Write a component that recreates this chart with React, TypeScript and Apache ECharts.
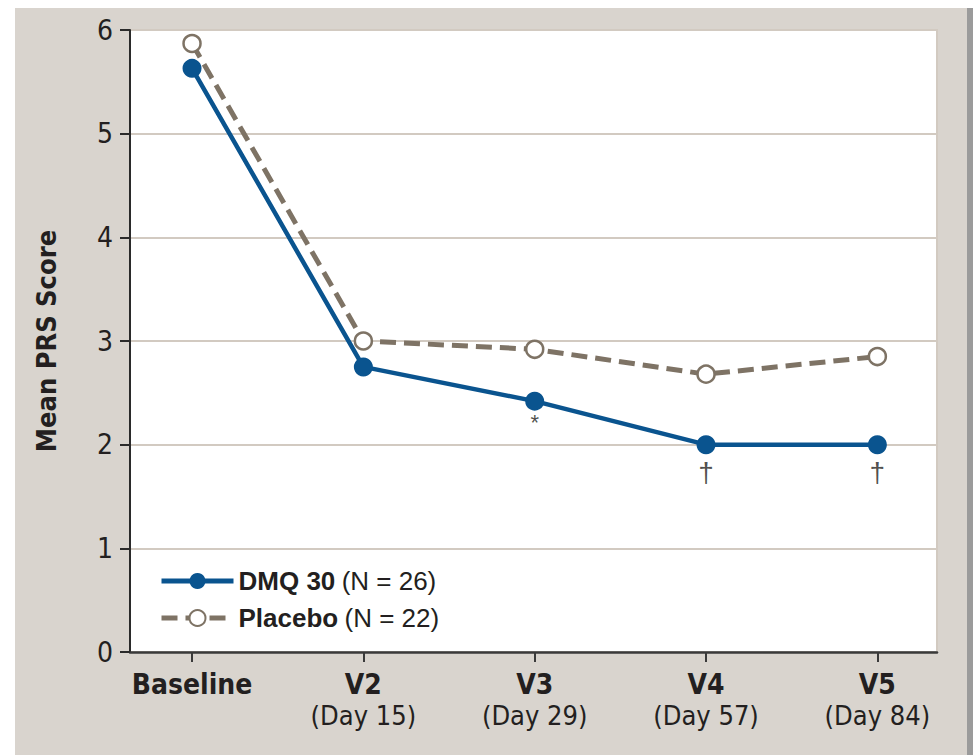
import React, { useEffect, useRef } from "react";
import * as echarts from "echarts";

const visitLabels = ["Baseline", "V2", "V3", "V4", "V5"];
const visitDays = ["", "(Day 15)", "(Day 29)", "(Day 57)", "(Day 84)"];
const visitIndex = [0, 1, 2, 3, 4];
const dmqValues = [5.63, 2.75, 2.42, 2.0, 2.0];
const placeboValues = [5.87, 3.0, 2.92, 2.68, 2.85];
const yTicks = [0, 1, 2, 3, 4, 5, 6];
const starMarks = [{ idx: 2, text: "*" }];
const daggerMarks = [{ idx: 3, text: "†" }, { idx: 4, text: "†" }];

const BLUE = "#0a548f";
const TAUPE = "#7e7365";
const INK = "#231f20";
const NARROW = '"Liberation Sans Narrow", "DejaVu Sans Condensed", "Liberation Sans", Arial, sans-serif';
const SANS = '"Liberation Sans", Arial, sans-serif';

export default function App() {
  const ref = useRef<HTMLDivElement>(null);
  useEffect(() => {
    if (!ref.current) return;
    const chart = echarts.init(ref.current, null, { renderer: "svg" });
    const dmqData = visitIndex.map((i) => [i, dmqValues[i]]);
    const placeboData = visitIndex.map((i) => [i, placeboValues[i]]);
    const starData = starMarks.map((m) => ({ value: [m.idx, dmqValues[m.idx]], label: { formatter: m.text } }));
    const daggerData = daggerMarks.map((m) => ({ value: [m.idx, dmqValues[m.idx]], label: { formatter: m.text } }));
    chart.setOption({
      animation: false,
      backgroundColor: "#ffffff",
      graphic: [
        { type: "rect", z: -100, silent: true, shape: { x: 15, y: 8, width: 952, height: 747 }, style: { fill: "#d9d4ce" } },
        { type: "rect", z: -100, silent: true, shape: { x: 967, y: 8, width: 6, height: 747 }, style: { fill: "#9b9b9b" } },
      ],
      grid: {
        left: 130,
        right: 36,
        top: 30,
        bottom: 103,
        show: true,
        backgroundColor: "#ffffff",
        borderColor: "#d2cac1",
        borderWidth: 2,
      },
      legend: {
        orient: "vertical",
        left: 159,
        top: 568,
        itemWidth: 72,
        itemHeight: 20,
        itemGap: 11,
        padding: 0,
        data: ["DMQ 30", "Placebo"],
        lineStyle: { width: 5 },
        itemStyle: { borderWidth: 2 },
        formatter: (name: string) =>
          name === "DMQ 30" ? "{b|DMQ 30} {r|(N = 26)}" : "{b|Placebo} {r|(N = 22)}",
        textStyle: {
          rich: {
            b: { fontFamily: SANS, fontWeight: "bold", fontSize: 26, color: INK },
            r: { fontFamily: SANS, fontSize: 26, color: INK, padding: [0, 0, 0, 3] },
          },
        },
      },
      xAxis: {
        type: "value",
        min: -0.362,
        max: 4.348,
        splitLine: { show: false },
        axisLine: { show: true, onZero: false, lineStyle: { color: "#3a3a3a", width: 2.5 } },
        axisTick: { show: true, customValues: visitIndex, length: 10, lineStyle: { color: "#3a3a3a", width: 2 } },
        axisLabel: {
          customValues: visitIndex,
          margin: 17,
          formatter: (v: number) => {
            const i = Math.round(v);
            return visitDays[i] ? `{b|${visitLabels[i]}}\n{r|${visitDays[i]}}` : `{b|${visitLabels[i]}}`;
          },
          rich: {
            b: { fontFamily: NARROW, fontWeight: "bold", fontSize: 28, lineHeight: 31, color: INK },
            r: { fontFamily: NARROW, fontSize: 27, lineHeight: 31, color: INK },
          },
        },
      },
      yAxis: {
        type: "value",
        min: 0,
        max: 6,
        interval: 1,
        name: "Mean PRS Score",
        nameLocation: "middle",
        nameGap: 70,
        nameTextStyle: { fontFamily: NARROW, fontWeight: "bold", fontSize: 27, color: INK },
        axisLine: { show: true, onZero: false, lineStyle: { color: "#2a2a2a", width: 2 } },
        axisTick: { show: true, length: 10, lineStyle: { color: "#2a2a2a", width: 2 } },
        axisLabel: {
          margin: 17,
          fontFamily: NARROW,
          fontSize: 28,
          color: INK,
          formatter: (v: number) => (yTicks.includes(v) ? String(v) : ""),
        },
        splitLine: { show: true, lineStyle: { color: "#d2cac1", width: 2 } },
      },
      series: [
        {
          name: "Placebo",
          type: "line",
          data: placeboData,
          symbol: "circle",
          symbolSize: 17,
          z: 3,
          lineStyle: { color: TAUPE, width: 5, type: [16, 8] },
          itemStyle: { color: "#ffffff", borderColor: TAUPE, borderWidth: 2.5 },
        },
        {
          name: "DMQ 30",
          type: "line",
          data: dmqData,
          symbol: "circle",
          symbolSize: 19,
          z: 4,
          lineStyle: { color: BLUE, width: 4.5 },
          itemStyle: { color: BLUE },
        },
        {
          name: "star",
          type: "scatter",
          data: starData,
          symbolSize: 0,
          silent: true,
          label: { show: true, position: "bottom", distance: 10, fontFamily: SANS, fontSize: 22, color: INK },
        },
        {
          name: "dagger",
          type: "scatter",
          data: daggerData,
          symbolSize: 0,
          silent: true,
          label: { show: true, position: "bottom", distance: 14, fontFamily: SANS, fontSize: 28, color: INK },
        },
      ],
    });
    return () => chart.dispose();
  }, []);
  return (
    <div
      ref={ref}
      style={{ position: "fixed", left: 0, top: 0, width: 973, height: 755 }}
    />
  );
}
